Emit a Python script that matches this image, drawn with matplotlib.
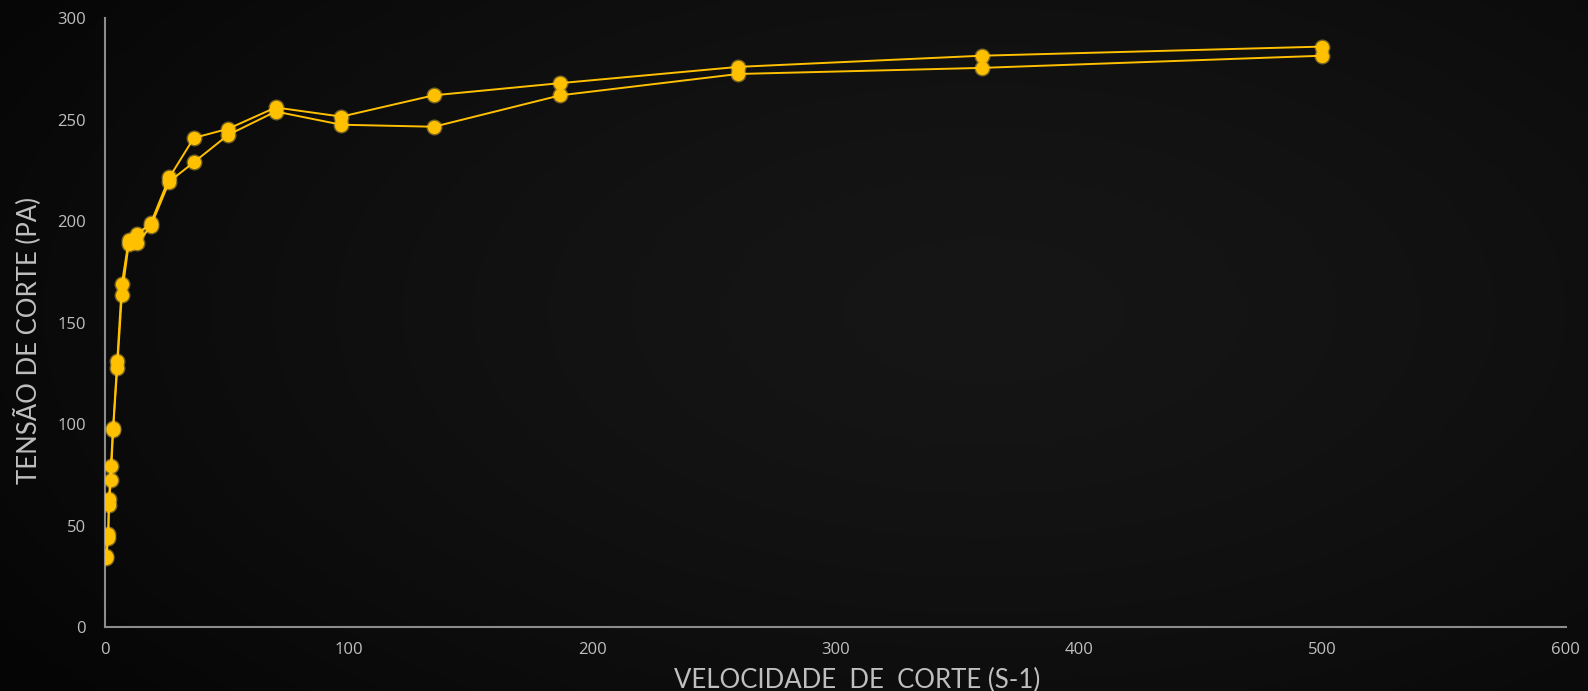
import numpy as np
import matplotlib.pyplot as plt

# shear rate (1/s) and shear stress (Pa), two passes of the flow curve
shear_rate = [500, 360, 260, 187, 135, 97, 70, 50.5, 36.4, 26.3,
              18.7, 13.2, 9.6, 6.8, 4.9, 3.2, 2.3, 1.5, 1.2, 0.4]
stress_up = [286, 281.5, 276, 268, 262, 251.5, 256, 245.5, 241, 221.5,
             199, 193.5, 190.5, 169, 131, 98, 79.5, 63, 46, 35]
stress_down = [281.5, 275.5, 272.5, 262, 246.5, 247.5, 254, 242.5, 229, 219.5,
               197.5, 189, 188.5, 163.5, 127.5, 97, 72.5, 60, 44, 34]

x_ticks = [0, 100, 200, 300, 400, 500, 600]
y_ticks = [0, 50, 100, 150, 200, 250, 300]

yellow = '#FFC000'
grey = '#BFBFBF'

fig = plt.figure(figsize=(15.88, 6.91), dpi=100)

# dark radial background
bg = fig.add_axes([0, 0, 1, 1])
gx, gy = np.meshgrid(np.linspace(0, 1, 400), np.linspace(0, 1, 200))
r = np.sqrt(((gx - 0.62) / 0.75) ** 2 + ((gy - 0.55) / 0.9) ** 2)
shade = 0.085 - 0.065 * np.clip(r, 0, 1) ** 1.5
bg.imshow(np.dstack([shade, shade, shade]), extent=[0, 1, 0, 1], aspect='auto',
          origin='lower', interpolation='bicubic')
bg.set_axis_off()

ax = fig.add_axes([0.0663, 0.0926, 0.9197, 0.8811])
ax.patch.set_alpha(0)

for ys in (stress_up, stress_down):
    ax.plot(shear_rate, ys, '-', color=yellow, lw=1.4, zorder=3)
    # soft glow under the markers
    ax.plot(shear_rate, ys, 'o', ms=11.5, color='#FFD040', alpha=0.45, mec='none', zorder=4)
    ax.plot(shear_rate, ys, 'o', ms=9.5, color=yellow, mec='none', zorder=5)

ax.set_xlim(0, 600)
ax.set_ylim(0, 300)
ax.set_xticks(x_ticks)
ax.set_yticks(y_ticks)
ax.tick_params(length=0, colors=grey, labelsize=12)
ax.tick_params(axis='x', pad=11)
ax.tick_params(axis='y', pad=14)
for lbl in ax.get_xticklabels() + ax.get_yticklabels():
    lbl.set_family('Open Sans')

for side in ('top', 'right'):
    ax.spines[side].set_visible(False)
for side in ('left', 'bottom'):
    ax.spines[side].set_color('#8C8C8C')
    ax.spines[side].set_linewidth(1.5)

ax.set_xlabel('VELOCIDADE  DE  CORTE (S-1)', color=grey, fontsize=18.5,
              family='Lato')
ax.set_ylabel('TENSÃO DE CORTE (PA)', color=grey, fontsize=18.5,
              family='Lato')
ax.xaxis.set_label_coords(0.5145, -0.067)
ax.yaxis.set_label_coords(-0.044, 0.47)

fig.savefig('out.png', dpi=100, facecolor='black')
